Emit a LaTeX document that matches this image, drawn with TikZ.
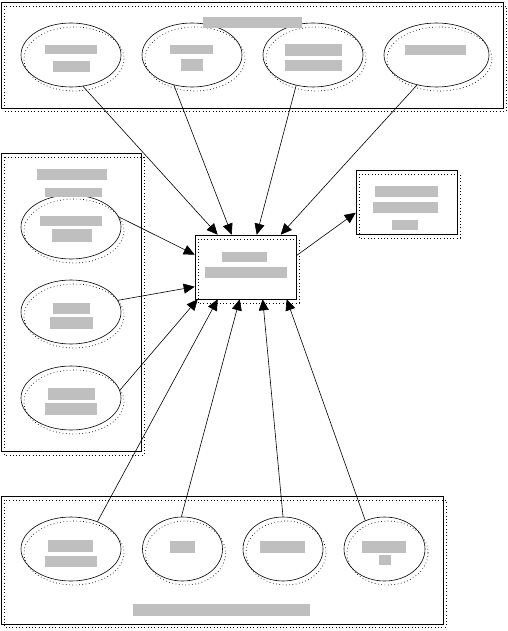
\documentclass[tikz,border=0pt]{standalone}
\usetikzlibrary{shapes.geometric,arrows.meta,calc}
\begin{document}
\begin{tikzpicture}[x=1pt,y=-1pt,
  shp/.style={draw=black,line width=0.6pt},
  ell/.style={shp,ellipse,inner sep=0pt,minimum width=100pt,minimum height=64pt},
  sml/.style={ell,minimum width=80pt},
  box/.style={shp,rectangle,inner sep=0pt},
  shd/.style={draw=black,line width=0.7pt,dash pattern=on 0.7pt off 2.6pt},
  blob/.style={fill=gray!50,draw=none},
  arr/.style={line width=0.6pt,-{Triangle[length=11pt,width=10pt]}}]
\useasboundingbox (0,0) rectangle (507,631);
% ---------- container boxes ----------
\node[box,minimum width=502pt,minimum height=106pt] (T) at (252,55) {};
\node[box,minimum width=140pt,minimum height=298pt] (L) at (71,302) {};
\node[box,minimum width=442pt,minimum height=128pt] (B) at (222,560) {};
\node[box,minimum width=101pt,minimum height=64pt] (C) at (245.5,267) {};
\node[box,minimum width=101pt,minimum height=64pt] (R) at (406.5,202) {};
% ---------- ellipses ----------
\node[ell] (e1) at (71,55) {};
\node[ell] (e2) at (192,55) {};
\node[ell] (e3) at (313,55) {};
\node[ell,minimum width=105pt] (e4) at (436.5,55) {};
\node[ell] (l1) at (71,227) {};
\node[ell] (l2) at (71,312) {};
\node[ell] (l3) at (71,398) {};
\node[ell] (b1) at (71,549) {};
\node[sml] (b2) at (182.5,549) {};
\node[sml] (b3) at (283,549) {};
\node[sml,minimum width=81pt] (b4) at (384.5,549) {};
% ---------- dotted shadows ----------
\draw[shd] (4,6) rectangle (506,111);
\draw[shd] (4,157) rectangle (144,455);
\draw[shd] (4,500) rectangle (446,627);
\draw[shd] (198,239) rectangle (299,303);
\draw[shd] (359,174) rectangle (460,238);
\foreach \x/\y/\w in {71/55/50,192/55/50,313/55/50,436.5/55/52.5,71/227/50,71/312/50,71/398/50,71/549/50,182.5/549/40,283/549/40,384.5/549/40.5}{
  \draw[shd] (\x+3,\y+4) ellipse [x radius=\w, y radius=32];
}
% ---------- text placeholders (illegible in reference) ----------
\fill[blob] (203,17) rectangle (302,28);
\fill[blob] (45,45) rectangle (97,54);
\fill[blob] (53,61) rectangle (90,72);
\fill[blob] (170,45) rectangle (213,54);
\fill[blob] (181,59) rectangle (203,71);
\fill[blob] (285,44) rectangle (342,56);
\fill[blob] (285,60) rectangle (342,71);
\fill[blob] (405,45) rectangle (466,55);
\fill[blob] (37,169) rectangle (107,180);
\fill[blob] (45,188) rectangle (102,197);
\fill[blob] (40,216) rectangle (102,226);
\fill[blob] (52,229) rectangle (92,242);
\fill[blob] (53,303) rectangle (90,314);
\fill[blob] (50,317) rectangle (93,329);
\fill[blob] (48,388) rectangle (95,400);
\fill[blob] (45,403) rectangle (97,415);
\fill[blob] (222,252) rectangle (267,262);
\fill[blob] (205,267) rectangle (287,278);
\fill[blob] (375,186) rectangle (438,197);
\fill[blob] (373,202) rectangle (438,213);
\fill[blob] (392,220) rectangle (418,230);
\fill[blob] (48,540) rectangle (93,552);
\fill[blob] (45,556) rectangle (97,567);
\fill[blob] (170,541) rectangle (195,553);
\fill[blob] (260,541) rectangle (305,553);
\fill[blob] (362,541) rectangle (406,553);
\fill[blob] (379,555) rectangle (391,565);
\fill[blob] (133,604) rectangle (310,616);
% ---------- arrow targets ----------
\coordinate (ct1) at ($(C.north west)+(23,0)$);
\coordinate (ct2) at ($(C.north west)+(37,0)$);
\coordinate (ct3) at ($(C.north west)+(62,0)$);
\coordinate (ct4) at ($(C.north west)+(86,0)$);
\coordinate (cl1) at ($(C.north west)+(0,20)$);
\coordinate (cl2) at ($(C.north west)+(0,52)$);
\coordinate (cb0) at ($(C.south west)+(3,0)$);
\coordinate (cb1) at ($(C.south west)+(23,0)$);
\coordinate (cb2) at ($(C.south west)+(45,0)$);
\coordinate (cb3) at ($(C.south west)+(68,0)$);
\coordinate (cb4) at ($(C.south west)+(92,0)$);
\coordinate (cr) at ($(C.north east)+(0,21)$);
\coordinate (rt) at ($(R.north west)+(0,43)$);
% ---------- connectors ----------
\draw[arr] (e1.-69) -- (ct1);
\draw[arr] (e2.-121) -- (ct2);
\draw[arr] (e3.-119) -- (ct3);
\draw[arr] (e4.-123) -- (ct4);
\draw[arr] (l1.12) -- (cl1);
\draw[arr] (l2.14) -- (cl2);
\draw[arr] (l3.9) -- (cb0);
\draw[arr] (b1.46) -- (cb1);
\draw[arr] (b2.92) -- (cb2);
\draw[arr] (b3.90) -- (cb3);
\draw[arr] (b4.124) -- (cb4);
\draw[arr] (cr) -- (rt);
\end{tikzpicture}
\end{document}
